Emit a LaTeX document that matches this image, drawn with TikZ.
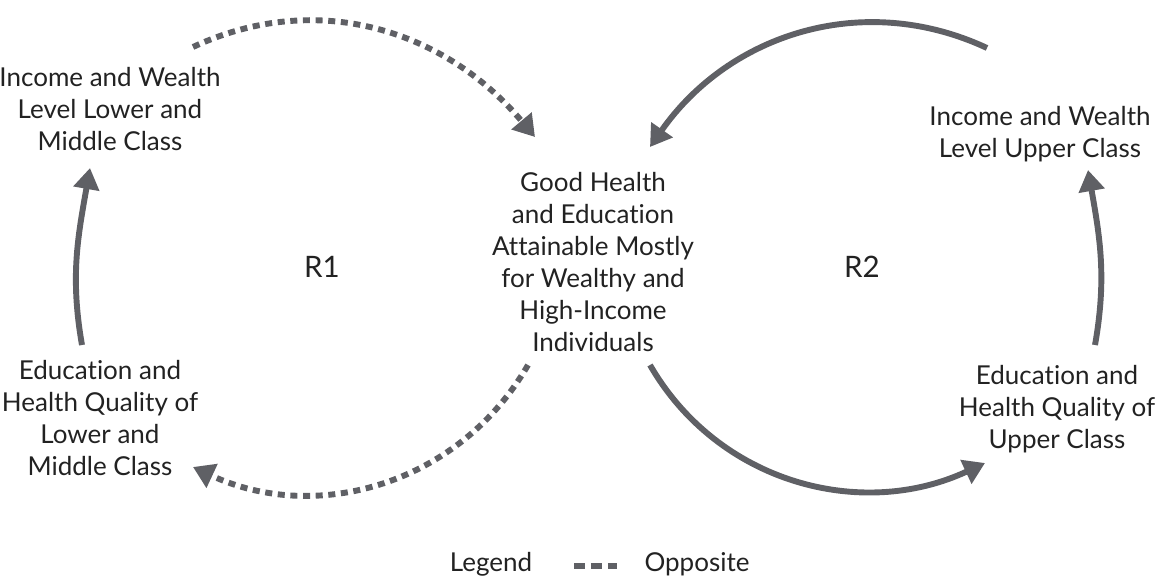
\documentclass[tikz,border=0pt]{standalone}
\usepackage{fontspec}
\setmainfont{Lato}[Ligatures={NoCommon,NoRare,NoContextual}]
\usepackage{xcolor}
\usetikzlibrary{arrows.meta}

\definecolor{loopgray}{HTML}{5F6065}
\definecolor{labeltext}{HTML}{222222}

\tikzset{
  label/.style={align=center, text=labeltext, font=\fontsize{18.5pt}{22.7pt}\selectfont},
  looplabel/.style={label, font=\fontsize{21pt}{24pt}\selectfont},
  link/.style={draw=loopgray, line width=4.2pt, -{Triangle[length=15pt,width=18pt]}},
  opposite/.style={link, dash pattern=on 5pt off 4pt}
}

\begin{document}
\begin{tikzpicture}[x=0.025cm, y=-0.025cm]
 \useasboundingbox (0,0) rectangle (1174,584);

 \node[label] (incLow) at (110,109) {Income and Wealth\\Level Lower and\\Middle Class};
 \node[label] (eduLow) at (100,418) {Education and\\Health Quality of\\Lower and\\Middle Class};
 \node[label] (goodHE) at (593,262) {Good Health\\and Education\\Attainable Mostly\\for Wealthy and\\High-Income\\Individuals};
 \node[label] (incUp) at (1040,134) {Income and Wealth\\Level Upper Class};
 \node[label] (eduUp) at (1057,409) {Education and\\Health Quality of\\Upper Class};
 \node[looplabel] (r1) at (322,267) {R1};
 \node[looplabel] (r2) at (862,267) {R2};

 \coordinate (a1) at (193,47);  \coordinate (b1) at (535,137);
 \coordinate (a2) at (528,365); \coordinate (b2) at (193,467);
 \coordinate (a3) at (82,345);  \coordinate (b3) at (90,168);
 \coordinate (a4) at (987,48);  \coordinate (b4) at (650,147);
 \coordinate (a5) at (650,365); \coordinate (b5) at (985,463);
 \coordinate (a6) at (1095,345); \coordinate (b6) at (1088,170);

 \draw[opposite] (a1) to[out=25, in=130] (b1);
 \draw[opposite] (a2) to[out=-120, in=-25] (b2);
 \draw[link] (a3) to[out=100, in=-100] (b3);
 \draw[link] (a4) to[out=155, in=55] (b4);
 \draw[link] (a5) to[out=-60, in=-155] (b5);
 \draw[link] (a6) to[out=80, in=-80] (b6);

 \node[label] (legend) at (491,564) {Legend};
 \coordinate (k1) at (574,566);
 \coordinate (k2) at (617,566);
 \draw[draw=loopgray, line width=4pt, dash pattern=on 7.8pt off 4.2pt] (k1) -- (k2);
 \node[label] (opp) at (697,564) {Opposite};
\end{tikzpicture}
\end{document}
